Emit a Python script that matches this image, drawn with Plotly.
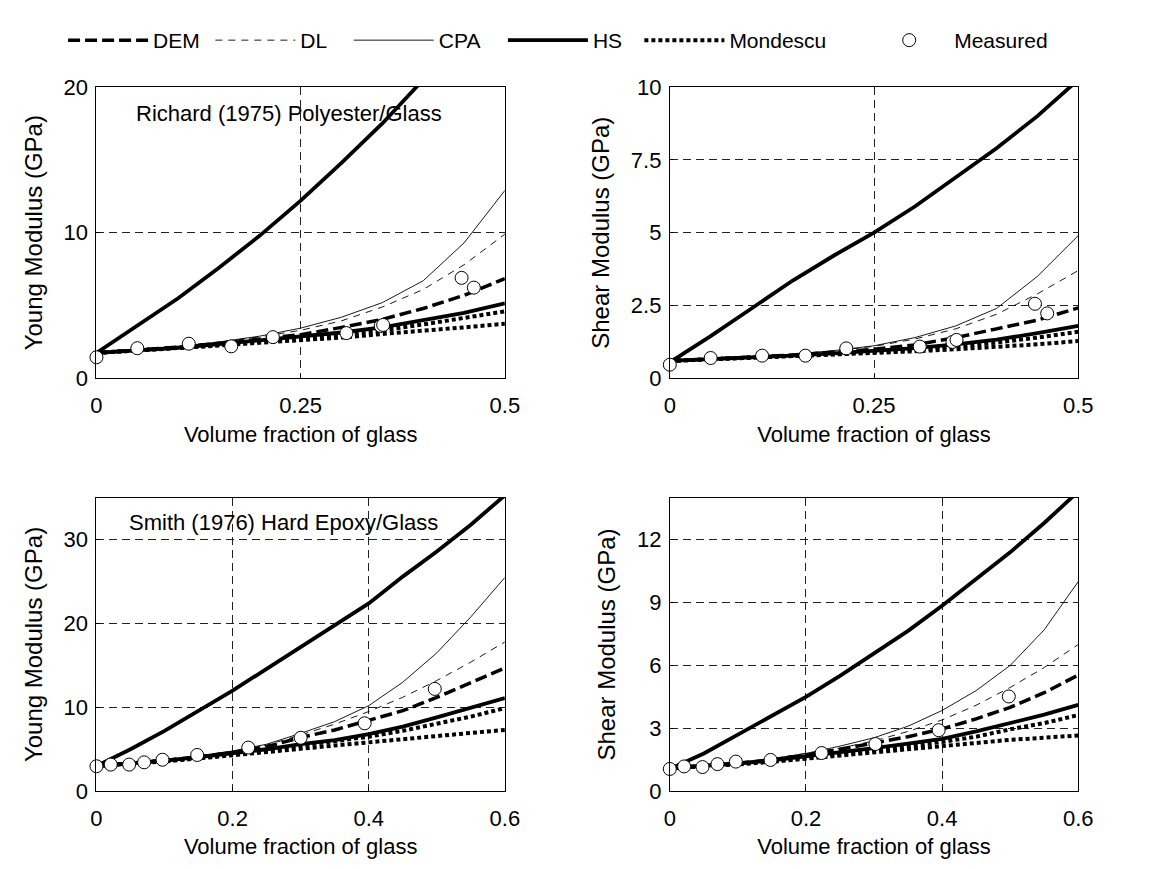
import plotly.graph_objects as go

# ---------------- DATA ----------------
# Panel A: Richard (1975) Polyester/Glass - Young modulus (GPa)
xa = [0, 0.05, 0.1, 0.15, 0.2, 0.25, 0.3, 0.35, 0.4, 0.45, 0.5]
a_hs_up = [1.75, 3.6, 5.5, 7.6, 9.8, 12.2, 14.8, 17.5, 20.4, 23.5, 26.8]
a_cpa = [1.75, 1.95, 2.2, 2.5, 2.9, 3.45, 4.2, 5.2, 6.7, 9.3, 12.9]
a_dl = [1.75, 1.95, 2.2, 2.5, 2.85, 3.3, 3.95, 4.9, 6.1, 7.8, 9.9]
a_dem = [1.75, 1.93, 2.15, 2.4, 2.7, 3.0, 3.5, 4.05, 4.8, 5.7, 6.85]
a_hs_lo = [1.75, 1.9, 2.1, 2.35, 2.6, 2.85, 3.15, 3.5, 4.0, 4.5, 5.15]
a_mo_up = [1.75, 1.9, 2.1, 2.3, 2.55, 2.75, 3.0, 3.3, 3.7, 4.15, 4.6]
a_mo_lo = [1.75, 1.9, 2.05, 2.25, 2.45, 2.6, 2.8, 3.05, 3.25, 3.5, 3.75]
a_meas_x = [0, 0.05, 0.113, 0.165, 0.216, 0.306, 0.348, 0.351, 0.447, 0.462]
a_meas_y = [1.45, 2.07, 2.38, 2.2, 2.83, 3.11, 3.6, 3.67, 6.9, 6.23]

# Panel B: Richard (1975) Polyester/Glass - Shear modulus (GPa)
b_hs_up = [0.55, 1.45, 2.4, 3.35, 4.2, 5.0, 5.9, 6.9, 7.9, 9.0, 10.25]
b_cpa = [0.6, 0.67, 0.75, 0.83, 0.95, 1.12, 1.4, 1.8, 2.4, 3.5, 4.9]
b_dl = [0.6, 0.67, 0.75, 0.83, 0.94, 1.1, 1.35, 1.7, 2.2, 2.9, 3.7]
b_dem = [0.6, 0.66, 0.73, 0.8, 0.9, 1.0, 1.15, 1.4, 1.7, 2.0, 2.42]
b_hs_lo = [0.6, 0.65, 0.72, 0.78, 0.86, 0.94, 1.04, 1.17, 1.33, 1.55, 1.8]
b_mo_up = [0.6, 0.65, 0.7, 0.76, 0.83, 0.9, 0.98, 1.1, 1.23, 1.4, 1.6]
b_mo_lo = [0.6, 0.65, 0.7, 0.75, 0.81, 0.86, 0.93, 1.0, 1.08, 1.17, 1.28]
b_meas_x = [0, 0.05, 0.113, 0.166, 0.216, 0.306, 0.346, 0.351, 0.447, 0.462]
b_meas_y = [0.47, 0.7, 0.78, 0.78, 1.03, 1.09, 1.25, 1.32, 2.56, 2.23]

# Panel C: Smith (1976) Hard Epoxy/Glass - Young modulus (GPa)
xc = [0, 0.05, 0.1, 0.15, 0.2, 0.25, 0.3, 0.35, 0.4, 0.45, 0.5, 0.55, 0.6]
c_hs_up = [3.0, 5.0, 7.2, 9.6, 12.0, 14.6, 17.2, 19.8, 22.4, 25.6, 28.6, 31.8, 35.3]
c_cpa = [3.0, 3.3, 3.7, 4.2, 4.8, 5.6, 6.9, 8.3, 10.2, 13.0, 16.5, 20.8, 25.5]
c_dl = [3.0, 3.3, 3.7, 4.2, 4.75, 5.5, 6.7, 8.0, 9.5, 11.2, 13.2, 15.4, 17.8]
c_dem = [3.0, 3.3, 3.65, 4.1, 4.6, 5.3, 6.4, 7.3, 8.4, 9.6, 11.2, 12.9, 14.7]
c_hs_lo = [3.0, 3.3, 3.65, 4.05, 4.5, 5.0, 5.6, 6.1, 6.8, 7.7, 8.8, 9.9, 11.1]
c_mo_up = [3.0, 3.3, 3.6, 4.0, 4.4, 4.9, 5.4, 5.9, 6.5, 7.2, 8.0, 8.9, 9.9]
c_mo_lo = [3.0, 3.25, 3.55, 3.9, 4.25, 4.65, 5.05, 5.45, 5.85, 6.2, 6.6, 6.95, 7.3]
c_meas_x = [0, 0.021, 0.048, 0.07, 0.097, 0.148, 0.223, 0.3, 0.394, 0.497]
c_meas_y = [2.97, 3.17, 3.17, 3.44, 3.75, 4.32, 5.2, 6.37, 8.1, 12.2]

# Panel D: Smith (1976) Hard Epoxy/Glass - Shear modulus (GPa)
d_hs_up = [1.06, 1.8, 2.7, 3.6, 4.5, 5.5, 6.55, 7.65, 8.85, 10.1, 11.4, 12.8, 14.3]
d_cpa = [1.1, 1.2, 1.35, 1.55, 1.8, 2.15, 2.55, 3.1, 3.85, 4.8, 6.0, 7.7, 10.0]
d_dl = [1.1, 1.2, 1.35, 1.55, 1.8, 2.05, 2.4, 2.85, 3.4, 4.1, 4.95, 5.9, 7.0]
d_dem = [1.1, 1.2, 1.33, 1.5, 1.72, 2.0, 2.3, 2.6, 2.97, 3.45, 4.0, 4.7, 5.54]
d_hs_lo = [1.1, 1.2, 1.32, 1.47, 1.65, 1.85, 2.05, 2.27, 2.5, 2.85, 3.25, 3.65, 4.12]
d_mo_up = [1.1, 1.19, 1.3, 1.44, 1.6, 1.78, 1.95, 2.15, 2.35, 2.6, 2.95, 3.25, 3.63]
d_mo_lo = [1.1, 1.18, 1.28, 1.4, 1.55, 1.7, 1.85, 2.0, 2.15, 2.3, 2.45, 2.55, 2.66]
d_meas_x = [0, 0.021, 0.048, 0.07, 0.097, 0.148, 0.223, 0.302, 0.395, 0.498]
d_meas_y = [1.06, 1.18, 1.15, 1.29, 1.41, 1.49, 1.82, 2.25, 2.91, 4.52]

series_names = ["DEM", "DL", "CPA", "HS", "Mondescu", "Measured"]
panel_notes = ["Richard (1975) Polyester/Glass", "Smith (1976) Hard Epoxy/Glass"]
x_title = "Volume fraction of glass"
y_titles = ["Young Modulus (GPa)", "Shear Modulus (GPa)",
            "Young Modulus (GPa)", "Shear Modulus (GPa)"]
x_ticks_top = [0, 0.25, 0.5]
x_ticks_bot = [0, 0.2, 0.4, 0.6]
y_ticks = [[0, 10, 20], [0, 2.5, 5, 7.5, 10], [0, 10, 20, 30], [0, 3, 6, 9, 12]]
y_ranges = [[0, 20], [0, 10], [0, 35], [0, 14]]

# ---------------- FIGURE ----------------
W, H = 1151, 869
FONT = "Liberation Sans, Arial, sans-serif"

panels = [
    dict(x=xa, dem=a_dem, dl=a_dl, cpa=a_cpa, hs=[a_hs_up, a_hs_lo], mo=[a_mo_up, a_mo_lo],
         mx=a_meas_x, my=a_meas_y),
    dict(x=xa, dem=b_dem, dl=b_dl, cpa=b_cpa, hs=[b_hs_up, b_hs_lo], mo=[b_mo_up, b_mo_lo],
         mx=b_meas_x, my=b_meas_y),
    dict(x=xc, dem=c_dem, dl=c_dl, cpa=c_cpa, hs=[c_hs_up, c_hs_lo], mo=[c_mo_up, c_mo_lo],
         mx=c_meas_x, my=c_meas_y),
    dict(x=xc, dem=d_dem, dl=d_dl, cpa=d_cpa, hs=[d_hs_up, d_hs_lo], mo=[d_mo_up, d_mo_lo],
         mx=d_meas_x, my=d_meas_y),
]

# pixel boxes for the four plot areas (left, right, top, bottom)
boxes = [(84, 500, 69, 369), (668, 1084, 69, 369), (84, 500, 492, 794), (668, 1084, 492, 794)]

styles = {
    "DEM": dict(color="black", width=3.5, dash="12px,5px"),
    "DL": dict(color="black", width=0.9, dash="7px,6px"),
    "CPA": dict(color="black", width=0.9),
    "HS": dict(color="black", width=3.8),
    "Mondescu": dict(color="black", width=4, dash="4px,3px"),
}
# separate legends so each entry sits where the reference puts it (slot start px)
legend_ids = {"DEM": "legend", "DL": "legend2", "CPA": "legend3", "HS": "legend4",
              "Mondescu": "legend5", "Measured": "legend6"}
legend_px = {"DEM": 50, "DL": 200, "CPA": 341, "HS": 498, "Mondescu": 637, "Measured": 866}

fig = go.Figure()
for i, p in enumerate(panels):
    n = i + 1
    xa_ref = "x" if n == 1 else f"x{n}"
    ya_ref = "y" if n == 1 else f"y{n}"
    first = (i == 0)

    def add_line(ys, name, show):
        fig.add_trace(go.Scatter(x=p["x"], y=ys, mode="lines", line=styles[name], name=name,
                                 legend=legend_ids[name], showlegend=show,
                                 xaxis=xa_ref, yaxis=ya_ref))

    add_line(p["cpa"], "CPA", first)
    add_line(p["dl"], "DL", first)
    for k, ys in enumerate(p["mo"]):
        add_line(ys, "Mondescu", first and k == 0)
    for k, ys in enumerate(p["hs"]):
        add_line(ys, "HS", first and k == 0)
    add_line(p["dem"], "DEM", first)
    fig.add_trace(go.Scatter(x=p["mx"], y=p["my"], mode="markers", name="Measured",
                             legend=legend_ids["Measured"],
                             marker=dict(symbol="circle", size=13, color="white",
                                         line=dict(color="black", width=1)),
                             showlegend=first, xaxis=xa_ref, yaxis=ya_ref, cliponaxis=False))

    l, r, t, b = boxes[i]
    xdom = [l / W, r / W]
    ydom = [1 - b / H, 1 - t / H]
    xt = x_ticks_top if i < 2 else x_ticks_bot
    axis_common = dict(showline=True, linecolor="black", linewidth=1, mirror=True,
                       showgrid=True, gridcolor="#222222", gridwidth=0.8, griddash="8px,5px",
                       ticks="inside", ticklen=4, tickcolor="black", zeroline=False,
                       tickfont=dict(family=FONT, size=22, color="black"))
    xkey = "xaxis" if n == 1 else f"xaxis{n}"
    ykey = "yaxis" if n == 1 else f"yaxis{n}"
    fig.update_layout({
        xkey: dict(domain=xdom, anchor=ya_ref, range=[xt[0], xt[-1]], tickvals=xt,
                   ticktext=[f"{v:g}" for v in xt], ticklabelstandoff=7,
                   title=dict(text=x_title, font=dict(family=FONT, size=22, color="black"), standoff=9),
                   **axis_common),
        ykey: dict(domain=ydom, anchor=xa_ref, range=y_ranges[i], tickvals=y_ticks[i],
                   ticktext=[f"{v:g}" for v in y_ticks[i]], ticklabelstandoff=3,
                   title=dict(text=y_titles[i], font=dict(family=FONT, size=24, color="black"), standoff=14),
                   **axis_common),
    })

fig.add_annotation(x=0.2356, y=18.2, xref="x", yref="y", text=panel_notes[0], showarrow=False,
                   font=dict(family=FONT, size=22, color="black"))
fig.add_annotation(x=0.2755, y=32.1, xref="x3", yref="y3", text=panel_notes[1], showarrow=False,
                   font=dict(family=FONT, size=22, color="black"))

legend_layout = {}
for name, lid in legend_ids.items():
    legend_layout[lid] = dict(orientation="h", x=legend_px[name] / W, xanchor="left",
                              y=1.0, yanchor="top", itemwidth=80,
                              font=dict(family=FONT, size=21, color="black"),
                              bgcolor="rgba(0,0,0,0)", borderwidth=0)

fig.update_layout(
    width=W, height=H, margin=dict(l=0, r=0, t=0, b=0),
    paper_bgcolor="white", plot_bgcolor="white",
    showlegend=True, **legend_layout,
)

fig.write_html("out.html")
